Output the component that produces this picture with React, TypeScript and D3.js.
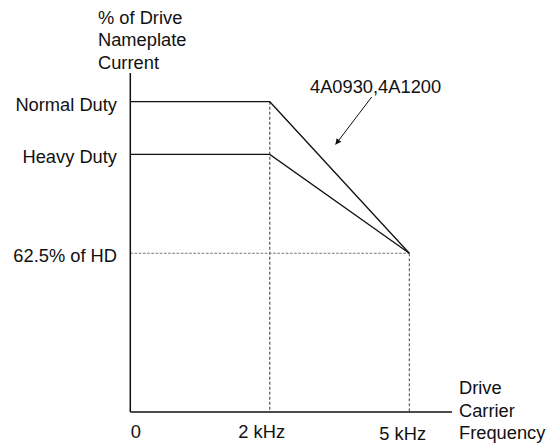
import React from "react";
import * as d3 from "d3";

const freqLabels = ["0", "2 kHz", "5 kHz"];
const levelNames = ["Normal Duty", "Heavy Duty", "62.5% of HD"];
const levelValues = [120, 100, 62.5]; // % of HD current
const yTitle = ["% of Drive", "Nameplate", "Current"];
const xTitle = ["Drive", "Carrier", "Frequency"];
const normalDuty = [
  { f: "0", v: 120 },
  { f: "2 kHz", v: 120 },
  { f: "5 kHz", v: 62.5 },
];
const heavyDuty = [
  { f: "0", v: 100 },
  { f: "2 kHz", v: 100 },
  { f: "5 kHz", v: 62.5 },
];
const annotation = "4A0930,4A1200";

const W = 547;
const H = 447;
const left = 130.3;
const bottom = 412;
const axisTop = 73;
const axisRight = 452;
const FONT = "'Liberation Sans', Arial, Helvetica, sans-serif";

export default function App() {
  const x = d3.scalePoint<string>().domain(freqLabels).range([left, 409.3]);
  const y = d3.scaleLinear().domain([62.5, 120]).range([253.3, 101.7]);
  const line = d3
    .line<{ f: string; v: number }>()
    .x((d) => x(d.f) as number)
    .y((d) => y(d.v));

  const x2 = x("2 kHz") as number;
  const x5 = x("5 kHz") as number;
  const labelOffsets = [0.5, -31.5, -30];
  const labelBase = [438, 437.5, 439.5];

  return (
    <svg
      width={W}
      height={H}
      style={{ position: "absolute", left: 0, top: 0, background: "#fff" }}
      fontFamily={FONT}
    >
      <defs>
        <marker
          id="arr"
          viewBox="0 0 10 10"
          refX="9"
          refY="5"
          markerWidth="7"
          markerHeight="6"
          markerUnits="userSpaceOnUse"
          orient="auto"
        >
          <path d="M0,0 L10,5 L0,10 Z" fill="#111" />
        </marker>
      </defs>
      {/* dashed guides */}
      <line x1={x2} x2={x2} y1={y(120)} y2={bottom} stroke="#333" strokeWidth={1} strokeDasharray="3,2" />
      <line x1={x5} x2={x5} y1={y(62.5)} y2={bottom} stroke="#444" strokeWidth={1} strokeDasharray="3,2" />
      <line x1={left} x2={x5} y1={y(62.5)} y2={y(62.5)} stroke="#777" strokeWidth={1.1} strokeDasharray="2.7,1.5" />
      {/* curves */}
      <path d={line(normalDuty) as string} fill="none" stroke="#111" strokeWidth={1.3} />
      <path d={line(heavyDuty) as string} fill="none" stroke="#111" strokeWidth={1.3} />
      {/* axes */}
      <line x1={left} x2={left} y1={axisTop} y2={bottom} stroke="#111" strokeWidth={1.5} />
      <line x1={left} x2={axisRight} y1={bottom} y2={bottom} stroke="#111" strokeWidth={1.5} />
      {/* y labels */}
      {levelNames.map((n, i) => (
        <text key={n} x={117} y={y(levelValues[i]) + 9} textAnchor="end" fontSize={18.3} fill="#111">
          {n}
        </text>
      ))}
      {/* x labels */}
      {freqLabels.map((f, i) => (
        <text key={f} x={(x(f) as number) + labelOffsets[i]} y={labelBase[i]} fontSize={18.3} fill="#111">
          {f}
        </text>
      ))}
      {/* titles */}
      {yTitle.map((t, i) => (
        <text key={t} x={98} y={23.5 + i * 22.5} fontSize={18.3} fill="#111">
          {t}
        </text>
      ))}
      {xTitle.map((t, i) => (
        <text key={t} x={459} y={394 + i * 22.5} fontSize={18.3} fill="#111">
          {t}
        </text>
      ))}
      {/* annotation */}
      <text x={310} y={92.5} fontSize={18.3} fill="#111">
        {annotation}
      </text>
      <line x1={371.7} y1={97} x2={335.7} y2={144.3} stroke="#111" strokeWidth={1} markerEnd="url(#arr)" />
    </svg>
  );
}
